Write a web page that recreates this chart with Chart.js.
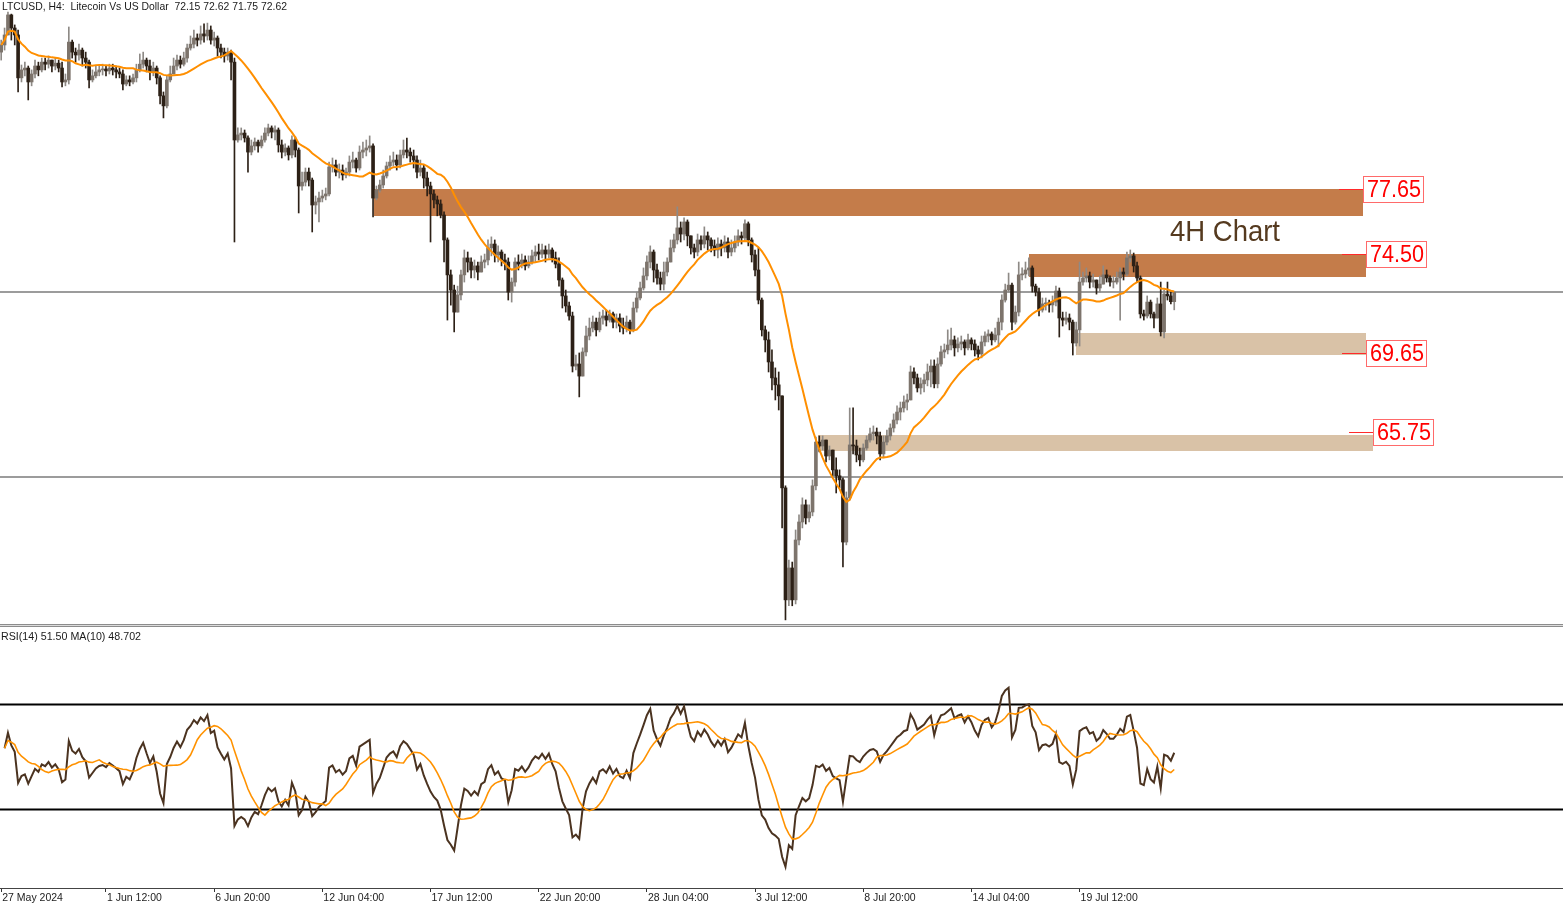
<!DOCTYPE html>
<html>
<head>
<meta charset="utf-8">
<script src="https://cdn.jsdelivr.net/npm/chart.js@4.4.1/dist/chart.umd.min.js"></script>
<style>
  html, body { margin: 0; padding: 0; background: #fff; }
  #wrap { position: relative; width: 1563px; height: 903px; overflow: hidden; }
  #price { position: absolute; left: 0; top: 0; }
  #rsi { position: absolute; left: 0; top: 626px; }
  #sep { position: absolute; left: 0; top: 624px; width: 1563px; height: 1px;
         border-top: 1px solid #8c8c8c; border-bottom: 1px solid #8c8c8c; background: #dcdcdc; }
</style>
</head>
<body>
<div id="wrap">
  <canvas id="price" width="1563" height="625"></canvas>
  <canvas id="rsi" width="1563" height="277"></canvas>
  <div id="sep"></div>
</div>
<script>
// LTCUSD H4 bars, index 0 = 27 May 04:00, one bar every 4 hours
const firstOpen = 84.36;

const closes = [
  84.71, 85.20, 86.18, 85.54, 85.20, 83.10, 83.49, 83.58, 82.90, 83.29,
  83.68, 83.49, 83.87, 83.77, 83.97, 83.68, 83.82, 83.58, 82.90, 83.00,
  84.85, 84.36, 84.22, 84.46, 84.07, 83.87, 83.00, 83.20, 83.39, 83.49,
  83.53, 83.44, 83.58, 83.49, 83.39, 83.29, 82.80, 83.00, 82.90, 83.10,
  83.49, 83.77, 83.97, 83.68, 83.39, 83.58, 83.10, 82.22, 81.73, 83.00,
  83.29, 83.68, 83.97, 83.77, 84.07, 84.56, 84.75, 85.05, 84.95, 85.25,
  85.15, 85.44, 84.95, 85.05, 84.56, 84.36, 84.17, 84.36, 83.87, 80.06,
  80.31, 80.40, 80.16, 79.47, 79.77, 79.96, 79.77, 80.06, 80.40, 80.65,
  80.45, 80.55, 79.82, 79.47, 79.67, 79.33, 80.06, 79.57, 77.81, 78.00,
  78.49, 78.10, 76.88, 77.03, 77.22, 77.32, 77.42, 78.74, 78.84, 78.49,
  78.59, 78.35, 78.49, 78.98, 79.08, 78.69, 79.47, 79.57, 79.67, 79.77,
  77.22, 77.61, 77.86, 78.30, 78.79, 78.98, 79.08, 78.84, 79.33, 79.57,
  79.47, 79.28, 79.08, 78.49, 78.69, 78.20, 77.81, 77.42, 77.13, 76.93,
  76.39, 75.17, 73.46, 72.72, 71.64, 72.48, 73.46, 74.29, 74.09, 73.70,
  73.90, 73.60, 74.09, 74.19, 74.78, 74.97, 74.44, 74.58, 74.19, 74.09,
  72.62, 73.11, 74.09, 73.99, 74.19, 73.90, 74.09, 74.39, 74.58, 74.48,
  74.68, 74.48, 74.68, 74.29, 73.99, 73.21, 72.43, 71.94, 71.45, 69.00,
  69.10, 68.51, 69.69, 70.47, 70.86, 71.15, 70.77, 71.35, 71.45, 71.25,
  71.55, 71.15, 71.35, 70.96, 70.86, 71.15, 70.77, 71.84, 72.33, 72.82,
  73.41, 74.09, 74.58, 73.70, 73.31, 73.01, 73.60, 74.09, 74.78, 75.17,
  75.76, 75.46, 76.05, 75.37, 74.78, 74.58, 75.17, 74.97, 75.37, 75.17,
  74.88, 74.68, 74.97, 74.78, 75.07, 74.58, 74.78, 75.07, 75.37, 75.27,
  75.96, 75.17, 74.44, 73.70, 72.23, 70.77, 70.28, 69.20, 68.42, 68.08,
  67.54, 63.04, 57.56, 59.12, 57.56, 60.49, 61.37, 62.21, 61.57, 61.86,
  63.14, 65.28, 65.09, 65.38, 64.60, 64.89, 63.92, 63.63, 63.43, 60.39,
  62.55, 65.14, 65.09, 64.65, 64.41, 64.99, 65.38, 65.68, 65.77, 65.58,
  64.70, 65.28, 65.58, 65.97, 66.36, 66.75, 66.95, 67.24, 67.34, 68.71,
  68.42, 67.93, 68.13, 68.32, 68.71, 69.00, 68.13, 69.10, 69.69, 69.79,
  70.03, 70.28, 69.89, 70.08, 70.18, 69.89, 70.28, 70.08, 69.79, 69.59,
  70.18, 70.47, 70.57, 70.28, 70.52, 71.15, 72.23, 72.72, 72.96, 71.15,
  71.64, 73.46, 73.50, 73.70, 73.80, 72.91, 72.62, 71.74, 72.04, 72.09,
  71.99, 72.13, 72.67, 71.35, 71.25, 71.35, 71.15, 70.13, 70.77, 73.11,
  73.31, 73.41, 73.11, 73.21, 72.82, 73.01, 73.46, 73.31, 73.11, 73.11,
  73.31, 73.60, 73.50, 74.29, 74.39, 73.90, 73.31, 71.55, 71.45, 72.13,
  71.55, 71.35, 72.04, 70.67, 72.52, 72.43, 72.15, 72.62
];

const highs = [
  84.95, 85.54, 86.32, 86.22, 85.69, 85.44, 83.73, 83.87, 83.68, 83.49,
  83.97, 83.87, 84.07, 84.07, 84.17, 83.97, 84.07, 83.97, 83.87, 83.29,
  85.59, 84.95, 84.56, 84.75, 84.56, 84.36, 83.97, 83.49, 83.68, 83.68,
  83.77, 83.68, 83.77, 83.77, 83.68, 83.58, 83.49, 83.20, 83.20, 83.29,
  83.77, 84.27, 84.36, 84.07, 83.97, 83.87, 83.68, 83.20, 82.41, 83.20,
  83.68, 84.07, 84.22, 84.17, 84.36, 84.75, 85.15, 85.44, 85.25, 85.64,
  85.74, 85.78, 85.64, 85.34, 85.15, 84.75, 84.56, 84.56, 84.46, 84.07,
  80.65, 80.65, 80.55, 80.26, 80.06, 80.16, 80.06, 80.26, 80.65, 80.84,
  80.75, 80.75, 80.65, 80.06, 79.87, 79.77, 80.26, 80.21, 79.67, 78.49,
  78.69, 78.69, 78.20, 77.32, 77.51, 77.61, 77.71, 78.98, 79.18, 79.08,
  78.89, 78.84, 78.69, 79.28, 79.47, 79.18, 79.77, 79.96, 80.06, 80.26,
  79.87, 77.81, 78.10, 78.59, 78.98, 79.28, 79.47, 79.33, 79.57, 80.06,
  80.16, 79.67, 79.57, 79.28, 79.08, 78.84, 78.49, 78.00, 77.61, 77.32,
  77.13, 76.54, 75.27, 73.70, 72.96, 72.91, 73.70, 74.68, 74.58, 74.29,
  74.19, 74.09, 74.39, 74.48, 75.17, 75.32, 75.17, 74.88, 74.68, 74.48,
  74.29, 73.31, 74.29, 74.44, 74.48, 74.39, 74.39, 74.68, 74.88, 74.97,
  74.97, 74.88, 74.97, 74.78, 74.58, 74.29, 73.31, 72.72, 72.13, 71.64,
  69.54, 69.64, 69.89, 70.96, 71.35, 71.45, 71.35, 71.64, 71.74, 71.74,
  71.74, 71.64, 71.55, 71.55, 71.35, 71.45, 71.25, 72.13, 72.62, 73.11,
  73.80, 74.39, 74.88, 74.68, 73.99, 73.60, 74.09, 74.29, 75.17, 75.46,
  76.79, 76.05, 76.25, 76.15, 75.37, 74.97, 75.46, 75.37, 75.81, 75.56,
  75.27, 75.17, 75.27, 75.17, 75.37, 75.27, 75.17, 75.37, 75.66, 75.56,
  76.15, 76.05, 75.27, 74.68, 74.78, 72.33, 70.96, 70.67, 69.79, 68.91,
  68.71, 67.44, 63.14, 59.51, 59.41, 60.98, 61.72, 62.55, 62.45, 62.21,
  63.43, 65.53, 65.58, 65.58, 65.38, 65.09, 64.89, 64.51, 63.92, 63.53,
  62.84, 66.95, 66.95, 65.38, 64.99, 65.19, 65.58, 65.97, 66.07, 65.97,
  65.77, 65.58, 65.87, 66.17, 66.66, 67.05, 67.24, 67.54, 67.63, 69.00,
  68.91, 68.61, 68.42, 68.61, 69.10, 69.30, 69.30, 69.40, 69.98, 70.08,
  70.77, 70.86, 70.47, 70.38, 70.47, 70.28, 70.57, 70.38, 70.28, 69.98,
  70.47, 70.67, 70.77, 70.67, 70.86, 71.35, 72.48, 73.01, 73.55, 73.06,
  71.94, 74.09, 73.80, 74.09, 74.29, 73.90, 73.01, 72.82, 72.33, 72.33,
  72.23, 72.43, 72.91, 72.82, 71.64, 71.64, 71.55, 71.25, 71.15, 74.09,
  73.60, 73.80, 73.60, 73.50, 73.21, 73.41, 73.90, 73.70, 73.41, 73.41,
  73.60, 73.80, 73.80, 74.58, 74.68, 74.53, 74.09, 73.41, 71.74, 72.43,
  72.23, 71.64, 72.33, 73.11, 72.72, 73.11, 72.62, 72.62
];

const lows = [
  83.97, 84.46, 85.20, 84.95, 84.71, 82.41, 82.90, 83.20, 82.02, 82.71,
  83.10, 83.20, 83.39, 83.49, 83.58, 83.39, 83.49, 83.39, 82.66, 82.71,
  82.80, 84.07, 83.87, 83.97, 83.68, 83.58, 82.61, 82.90, 83.10, 83.20,
  83.24, 83.20, 83.29, 83.24, 83.10, 83.10, 82.51, 82.71, 82.71, 82.80,
  82.90, 83.39, 83.58, 83.39, 83.00, 83.20, 82.80, 81.82, 81.14, 81.63,
  82.90, 83.29, 83.49, 83.58, 83.68, 83.87, 84.46, 84.56, 84.66, 84.75,
  84.85, 84.95, 84.75, 84.66, 84.17, 84.07, 83.87, 83.97, 83.00, 75.07,
  79.96, 80.06, 79.96, 78.49, 79.33, 79.57, 79.47, 79.67, 79.96, 80.26,
  80.16, 80.06, 79.47, 79.18, 79.28, 79.08, 79.18, 79.23, 76.49, 77.61,
  77.81, 77.81, 75.56, 76.44, 76.05, 77.03, 77.13, 77.32, 78.49, 78.30,
  78.20, 78.10, 78.20, 78.30, 78.69, 78.49, 78.59, 79.18, 79.28, 79.47,
  76.30, 77.13, 77.51, 77.71, 78.20, 78.59, 78.79, 78.59, 78.69, 79.18,
  79.18, 78.98, 78.69, 78.20, 78.30, 77.71, 77.32, 75.07, 76.74, 76.35,
  76.25, 74.09, 71.25, 71.98, 70.67, 71.74, 72.23, 73.11, 73.60, 73.31,
  73.31, 73.21, 73.70, 73.80, 73.95, 74.39, 74.09, 74.09, 73.90, 73.70,
  72.23, 72.13, 72.91, 73.70, 73.80, 73.70, 73.80, 73.99, 74.09, 74.19,
  74.29, 74.09, 74.29, 74.09, 73.80, 72.91, 71.84, 71.64, 71.25, 68.71,
  68.81, 67.49, 68.71, 69.49, 70.28, 70.67, 70.47, 70.67, 71.05, 70.96,
  71.15, 70.86, 70.86, 70.67, 70.57, 70.67, 70.57, 70.67, 71.64, 72.23,
  72.72, 73.21, 73.80, 73.11, 73.01, 72.72, 72.72, 73.41, 74.09, 74.58,
  74.97, 75.07, 75.17, 74.88, 74.48, 74.29, 74.39, 74.68, 74.78, 74.68,
  74.58, 74.39, 74.29, 74.39, 74.58, 74.29, 74.39, 74.58, 74.88, 74.97,
  75.17, 74.88, 74.09, 73.41, 72.04, 70.47, 69.69, 68.71, 67.83, 67.34,
  66.85, 61.08, 56.58, 57.27, 57.27, 57.36, 60.25, 61.08, 61.27, 61.37,
  61.67, 62.94, 64.80, 64.89, 64.31, 64.41, 63.63, 62.79, 63.04, 59.17,
  60.25, 62.45, 64.70, 64.31, 64.11, 64.31, 64.89, 65.28, 65.38, 65.19,
  64.41, 64.51, 65.14, 65.38, 65.77, 66.17, 66.36, 66.75, 66.85, 67.44,
  68.13, 67.73, 67.63, 67.73, 68.03, 67.98, 67.93, 67.93, 69.00, 69.40,
  69.59, 69.79, 69.49, 69.69, 69.79, 69.54, 69.79, 69.79, 69.49, 69.30,
  69.40, 69.98, 70.18, 70.03, 70.18, 69.94, 70.77, 72.13, 72.62, 70.77,
  71.05, 71.45, 73.21, 73.31, 73.41, 72.62, 72.43, 71.45, 71.64, 71.74,
  71.64, 71.64, 71.94, 70.42, 70.96, 71.05, 70.77, 69.54, 69.98, 69.98,
  72.96, 73.11, 72.82, 72.86, 72.52, 72.62, 73.01, 73.11, 72.91, 72.82,
  73.01, 71.25, 73.21, 73.41, 74.09, 73.60, 73.11, 71.35, 71.25, 71.35,
  71.35, 70.86, 71.55, 70.47, 70.38, 72.23, 72.04, 71.75
];

// time axis labels (bar index where each label sits)
const tickBars = [0, 31, 63, 95, 127, 159, 191, 223, 255, 287, 319];
const tickLabels = ['27 May 2024', '1 Jun 12:00', '6 Jun 20:00', '12 Jun 04:00', '17 Jun 12:00',
  '22 Jun 20:00', '28 Jun 04:00', '3 Jul 12:00', '8 Jul 20:00', '14 Jul 04:00', '19 Jul 12:00'];

// support / resistance zones
const zoneTops = [77.65, 74.48, 70.60, 65.63];
const zoneBottoms = [76.36, 73.35, 69.53, 64.86];
const zoneStartBar = [110.3, 304.0, 317.9, 241.6];
const zoneEndBar = [402.8, 403.7, 403.7, 405.7];
const zoneLevels = [77.65, 74.50, 69.65, 65.75];
const zoneLabels = ['77.65', '74.50', '69.65', '65.75'];
const zoneColors = ['#c47c4a', '#c47c4a', '#d9c2a7', '#d9c2a7'];

const bidLevel = 72.62;
const lowLine = 63.57;
const rsiLevels = [70, 30];

const titleText = 'LTCUSD, H4:  Litecoin Vs US Dollar  72.15 72.62 71.75 72.62';
const rsiText = 'RSI(14) 51.50 MA(10) 48.702';

const xMin = -0.355, xMax = 462.0;

const opens = closes.map((c, i) => i === 0 ? firstOpen : closes[i - 1]);
const bullish = closes.map((c, i) => c >= opens[i]);

function sma(src, n) {
  return src.map((v, i) => {
    if (v == null) return null;
    let s = 0, c = 0;
    for (let j = Math.max(0, i - n + 1); j <= i; j++) {
      if (src[j] != null) { s += src[j]; c++; }
    }
    return s / c;
  });
}

// Wilder RSI, warmed up from the first bars on screen
function rsiOf(src, n) {
  let seed = 0;
  for (let i = 1; i <= n; i++) seed += Math.abs(src[i] - src[i - 1]);
  let ag = seed / n / 2, al = seed / n / 2;
  const out = [null];
  for (let i = 1; i < src.length; i++) {
    const d = src[i] - src[i - 1];
    ag = (ag * (n - 1) + (d > 0 ? d : 0)) / n;
    al = (al * (n - 1) + (d < 0 ? -d : 0)) / n;
    out.push(al === 0 ? 100 : 100 - 100 / (1 + ag / al));
  }
  return out;
}

const ma20 = sma(closes, 20);
const rsi14 = rsiOf(closes, 14);
const rsiMa10 = sma(rsi14, 10);

const bullBody = '#7d746c', bearBody = '#2c2016';
const bullWick = '#8e8a86', bearWick = '#2c2016';

const zonePlugin = {
  id: 'zones',
  beforeDatasetsDraw(chart) {
    const { ctx, scales: { x, y } } = chart;
    ctx.save();
    zoneTops.forEach((top, i) => {
      const x0 = Math.round(x.getPixelForValue(zoneStartBar[i]));
      const x1 = Math.round(x.getPixelForValue(zoneEndBar[i]));
      const y0 = Math.round(y.getPixelForValue(top));
      const y1 = Math.round(y.getPixelForValue(zoneBottoms[i]));
      ctx.fillStyle = zoneColors[i];
      ctx.fillRect(x0, y0, x1 - x0, y1 - y0);
    });
    // thin horizontal price lines, snapped to whole pixels
    ctx.fillStyle = '#3a3a3a';
    [bidLevel, lowLine].forEach(p => {
      ctx.fillRect(0, Math.round(y.getPixelForValue(p)) - 0.5, chart.width, 1);
    });
    ctx.restore();
  },
  afterDatasetsDraw(chart) {
    const { ctx, scales: { x, y } } = chart;
    ctx.save();
    zoneLabels.forEach((txt, i) => {
      const xr = Math.round(x.getPixelForValue(zoneEndBar[i]));
      const yl = Math.round(y.getPixelForValue(zoneLevels[i]));
      ctx.fillStyle = '#ff2a2a';
      ctx.fillRect(xr - 24, yl, 24, 1);
      ctx.fillStyle = '#fff';
      ctx.fillRect(xr, yl - 13, 60, 27);
      ctx.strokeStyle = '#ff6a6a';
      ctx.lineWidth = 1;
      ctx.strokeRect(xr + 0.5, yl - 12.5, 60, 26);
      ctx.fillStyle = '#ff0000';
      ctx.font = '24px "Liberation Sans", Arial, sans-serif';
      ctx.textAlign = 'center';
      ctx.textBaseline = 'middle';
      ctx.fillText(txt, xr + 31, yl + 1.5, 54);
    });
    ctx.fillStyle = '#553a1f';
    ctx.font = '29px "Liberation Sans", Arial, sans-serif';
    ctx.textAlign = 'left';
    ctx.textBaseline = 'alphabetic';
    ctx.fillText('4H Chart', 1170, 241, 110);
    ctx.fillStyle = '#1a1a1a';
    ctx.font = '11px "Liberation Sans", Arial, sans-serif';
    ctx.textBaseline = 'middle';
    ctx.fillText(titleText, 2, 6.5, 285);
    ctx.restore();
  }
};

const rsiTextPlugin = {
  id: 'rsiText',
  afterDatasetsDraw(chart) {
    const { ctx } = chart;
    ctx.save();
    ctx.fillStyle = '#1a1a1a';
    ctx.font = '11px "Liberation Sans", Arial, sans-serif';
    ctx.textBaseline = 'middle';
    ctx.fillText(rsiText, 1, 11, 140);
    ctx.restore();
  }
};

Chart.defaults.font.family = '"Liberation Sans", Arial, sans-serif';

new Chart(document.getElementById('price'), {
  type: 'bar',
  data: {
    datasets: [
      {
        order: 4, grouped: false, barThickness: 1,
        data: closes.map((c, i) => ({ x: i, y: [Math.min(lows[i], opens[i], c), Math.max(highs[i], opens[i], c)] })),
        backgroundColor: bullish.map(b => b ? bullWick : bearWick)
      },
      {
        order: 3, grouped: false, barThickness: 3, minBarLength: 1,
        data: closes.map((c, i) => ({ x: i, y: [opens[i], c] })),
        backgroundColor: bullish.map(b => b ? bullBody : bearBody)
      },
      {
        type: 'line', order: 1,
        data: ma20.map((v, i) => ({ x: i, y: v })),
        borderColor: '#ff8f00', borderWidth: 2, pointRadius: 0, tension: 0
      }
    ]
  },
  options: {
    responsive: false, animation: false, devicePixelRatio: 1, events: [],
    layout: { padding: 0 },
    plugins: { legend: { display: false }, tooltip: { enabled: false } },
    scales: {
      x: { type: 'linear', min: xMin, max: xMax, offset: false, display: false },
      y: { type: 'linear', min: 56.33, max: 86.91, beginAtZero: false, display: false }
    }
  },
  plugins: [zonePlugin]
});

new Chart(document.getElementById('rsi'), {
  type: 'line',
  data: {
    datasets: [
      ...rsiLevels.map(lv => ({
        order: 3,
        data: [{ x: xMin, y: lv }, { x: xMax, y: lv }],
        borderColor: '#000', borderWidth: 2, pointRadius: 0
      })),
      {
        order: 2,
        data: rsi14.map((v, i) => ({ x: i, y: v })),
        borderColor: '#4b3320', borderWidth: 2, pointRadius: 0, tension: 0
      },
      {
        order: 1,
        data: rsiMa10.map((v, i) => ({ x: i, y: v })),
        borderColor: '#ff9200', borderWidth: 1.6, pointRadius: 0, tension: 0
      }
    ]
  },
  options: {
    responsive: false, animation: false, devicePixelRatio: 1, events: [],
    layout: { padding: 0 },
    plugins: { legend: { display: false }, tooltip: { enabled: false } },
    scales: {
      x: {
        type: 'linear', min: xMin, max: xMax, offset: false,
        afterBuildTicks: (axis) => { axis.ticks = tickBars.map(v => ({ value: v })); },
        afterFit: (axis) => { axis.height = 15; },
        ticks: {
          autoSkip: false, maxRotation: 0, minRotation: 0, align: 'start', padding: 0, labelOffset: 1,
          color: '#222', font: { size: 10.5 },
          callback: (v, i) => tickLabels[i]
        },
        grid: { drawOnChartArea: false, drawTicks: true, tickLength: 4, color: '#333' },
        border: { display: true, color: '#444', width: 1 }
      },
      y: { type: 'linear', min: 0, max: 100, display: false }
    }
  },
  plugins: [rsiTextPlugin]
});
</script>
</body>
</html>
